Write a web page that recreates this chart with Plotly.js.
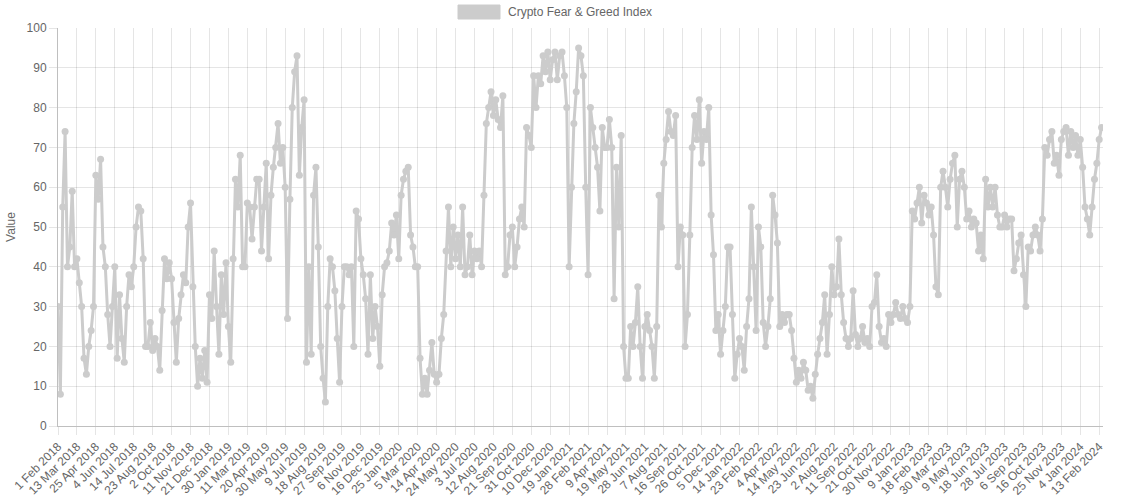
<!DOCTYPE html>
<html>
<head>
<meta charset="utf-8">
<script src="https://cdn.plot.ly/plotly-3.0.1.min.js"></script>
<style>
  html, body { margin: 0; padding: 0; background: #ffffff; }
  #chart { width: 1123px; height: 504px; }
</style>
</head>
<body>
<div id="chart"></div>
<script>
// Sampling step of the daily series (every 5th day)
const STEP = 5;

// Crypto Fear & Greed Index values, one every 5 days from 1 Feb 2018
const values2018a = [30,8,55,74,40,45,59,40,42,36,30,17,13,20,24,30,63,57,67,45,40,28,20,30,40,17,33,22,16,30,38,35,40,50,55,54,42,20];
const values2018b = [20,26,19,22,20,14,29,42,37,41,37,26,16,27,33,38,36,50,56,35,20,10,17,12,19,11,33,27,44,30,18,38,28,41,25,16,42,62,55,68,40];
const values2019 = [40,56,55,47,55,62,62,44,55,66,42,58,65,70,76,66,70,60,27,57,80,89,93,63,75,82,16,40,18,58,65,45,20,12,6,30,42,40,34,22,11];
const values2020a = [30,40,40,38,40,20,54,52,42,38,32,18,38,22,30,25,15,33,40,41,44,51,48,53,42,58,62,64,65,48,45,40,40,17,8,12,8,14,21,13,11];
const values2020b = [13,22,28,44,55,40,50,42,48,40,55,38,40,48,38,44,42,44,40,58,76,80,84,78,82,77,75,83,38,40,48,50,40,45,52,55,50,75,73,70,88];
const values2021a = [80,88,86,93,89,94,87,92,94,87,93,94,88,80,40,60,76,84,95,93,88,60,38,80,75,70,65,54,75,70,70,77,70,32,65,50,73,20,12,12,25];
const values2021b = [20,26,35,20,12,25,28,24,20,12,25,58,50,66,72,79,74,73,78,40,50,48,20,28,48,70,78,72,82,66,74,72,80,53,43,24,28,18,24,30,45];
const values2022a = [45,28,12,18,22,20,14,25,32,55,40,24,50,45,26,20,25,32,58,53,46,25,28,26,28,28,24,17,11,14,12,16,14,9,10,7,13,18,22,26,33];
const values2022b = [18,28,40,33,35,47,33,26,22,20,22,34,23,20,22,25,21,22,20,30,31,38,25,21,22,20,28,26,28,31,28,27,30,27,26,30,54,52,56,60,51];
const values2023a = [58,56,53,55,48,35,33,60,64,60,55,62,66,68,50,62,64,60,52,54,50,52,51,44,48,42,62,55,60,55,60,53,50,50,53,50,52,52,39,42,46];
const values2023b = [48,38,30,45,44,48,50,48,44,52,70,68,72,74,66,68,63,72,74,75,68,74,70,73,68,72,65,55,52,48,55,62,66,72,75];

// Tick labels: one every 40 days of the daily series
const TICK_EVERY = 40;
const tickLabels = [
  "1 Feb 2018","13 Mar 2018","25 Apr 2018","4 Jun 2018","14 Jul 2018","23 Aug 2018","2 Oct 2018","11 Nov 2018","21 Dec 2018",
  "30 Jan 2019","11 Mar 2019","20 Apr 2019","30 May 2019","9 Jul 2019","18 Aug 2019","27 Sep 2019","6 Nov 2019","16 Dec 2019",
  "25 Jan 2020","5 Mar 2020","14 Apr 2020","24 May 2020","3 Jul 2020","12 Aug 2020","21 Sep 2020","31 Oct 2020","10 Dec 2020",
  "19 Jan 2021","28 Feb 2021","9 Apr 2021","19 May 2021","28 Jun 2021","7 Aug 2021","16 Sep 2021","26 Oct 2021","5 Dec 2021",
  "14 Jan 2022","23 Feb 2022","4 Apr 2022","14 May 2022","23 Jun 2022","2 Aug 2022","11 Sep 2022","21 Oct 2022","30 Nov 2022",
  "9 Jan 2023","18 Feb 2023","30 Mar 2023","9 May 2023","18 Jun 2023","28 Jul 2023","6 Sep 2023","16 Oct 2023","25 Nov 2023",
  "4 Jan 2024","13 Feb 2024"
];
const seriesName = "Crypto Fear & Greed Index";
const TOTAL_DAYS = 2208;

const values = [].concat(values2018a, values2018b, values2019, values2020a, values2020b,
  values2021a, values2021b, values2022a, values2022b, values2023a, values2023b);
const xs = values.map((_, i) => i * STEP);
const tickVals = tickLabels.map((_, i) => i * TICK_EVERY);

const grey = "#cccccc";
const fontFam = "'Liberation Sans', Arial, Helvetica, sans-serif";

const trace = {
  x: xs, y: values, type: "scatter", mode: "lines+markers",
  name: seriesName, showlegend: false,
  line: { color: grey, width: 3 },
  marker: { color: grey, size: 7 },
  hoverinfo: "skip"
};

const layout = {
  width: 1123, height: 504,
  margin: { l: 58, r: 20, t: 28, b: 78 },
  paper_bgcolor: "#ffffff", plot_bgcolor: "#ffffff",
  font: { family: fontFam, size: 12, color: "#666666" },
  showlegend: false,
  xaxis: {
    range: [0, TOTAL_DAYS], tickmode: "array", tickvals: tickVals, ticktext: tickLabels,
    tickangle: -45, ticks: "outside", ticklen: 8, tickcolor: "rgba(0,0,0,0.1)",
    showgrid: true, gridcolor: "rgba(0,0,0,0.1)", gridwidth: 1,
    showline: true, linecolor: "rgba(0,0,0,0.25)", linewidth: 1,
    zeroline: false, fixedrange: true, automargin: false,
    tickfont: { family: fontFam, size: 12, color: "#666666" }
  },
  yaxis: {
    range: [0, 100], dtick: 10, ticks: "outside", ticklen: 8, tickcolor: "rgba(0,0,0,0.1)",
    showgrid: true, gridcolor: "rgba(0,0,0,0.1)", gridwidth: 1,
    showline: true, linecolor: "rgba(0,0,0,0.25)", linewidth: 1,
    zeroline: false, fixedrange: true, automargin: false,
    title: { text: "Value", font: { family: fontFam, size: 12, color: "#666666" }, standoff: 8 },
    tickfont: { family: fontFam, size: 12, color: "#666666" }
  },
  shapes: [{
    type: "rect", xref: "paper", yref: "paper",
    x0: (458 - 58) / 1045, x1: (500 - 58) / 1045,
    y0: (426 - 19) / 398, y1: (426 - 5) / 398,
    fillcolor: grey, line: { color: grey, width: 1 }
  }],
  annotations: [{
    xref: "paper", yref: "paper", x: (506 - 58) / 1045, y: (426 - 12) / 398,
    xanchor: "left", yanchor: "middle", showarrow: false,
    text: seriesName, font: { family: fontFam, size: 12, color: "#666666" }
  }]
};

Plotly.newPlot("chart", [trace], layout, { displayModeBar: false, staticPlot: true });
</script>
</body>
</html>
